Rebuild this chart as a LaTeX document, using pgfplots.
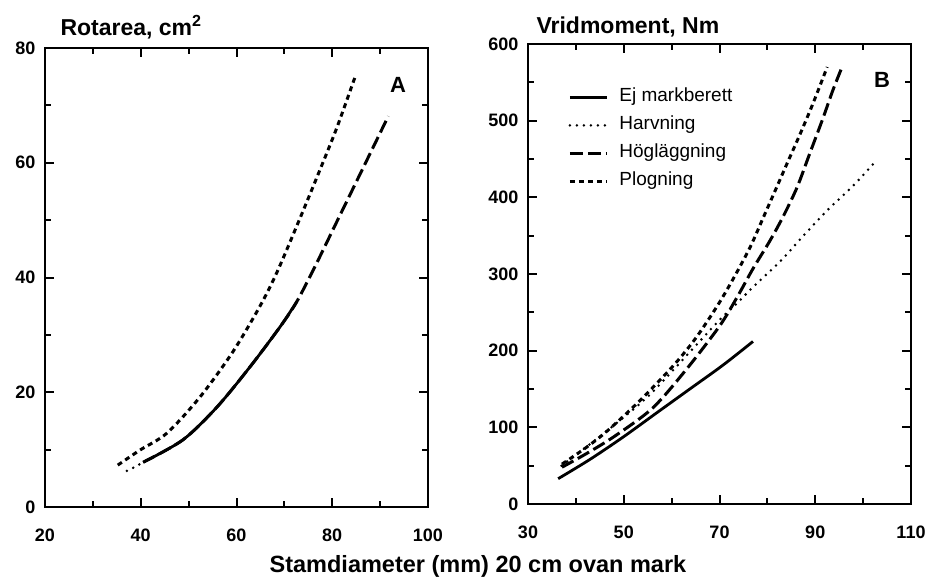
\documentclass[border=0pt]{standalone}
\usepackage{fontspec}
\setmainfont{Liberation Sans}
\usepackage{pgfplots}
\pgfplotsset{compat=1.18}
\begin{document}
\begin{tikzpicture}[x=1pt,y=1pt]
\useasboundingbox (0,0) rectangle (929,576);
\pgfplotsset{
  panel/.style={scale only axis, anchor=south west,
    tick align=inside, major tick length=9pt, minor tick length=6pt,
    axis line style={line width=2.6pt},
    every tick/.style={black, line width=2pt},
    /pgf/number format/assume math mode=true,
    ticklabel style={font=\fontsize{18}{18}\selectfont\bfseries},
    xticklabel style={yshift=-18pt},
    yticklabel style={xshift=-6pt},
    legend image code/.code={\draw[##1] (0pt,0pt) -- (37pt,0pt);},
  },
  ej/.style={black, line width=2.8pt, smooth},
  harv/.style={black, line width=2.8pt, line cap=round, dash pattern=on 0pt off 7pt, smooth},
  hog/.style={black, line width=3pt, dash pattern=on 13pt off 5pt, smooth},
  plog/.style={black, line width=3pt, dash pattern=on 5pt off 4pt, smooth},
}
% Panel A
\begin{axis}[panel, at={(45pt,69pt)}, width=383pt, height=459pt,
  xmin=20, xmax=100, ymin=0, ymax=80,
  xtick={20,40,60,80,100}, minor xtick={30,50,70,90},
  ytick={0,20,40,60,80}, minor ytick={10,30,50,70}]
\addplot[hog] coordinates {(40.5,7.8) (48.8,11.7) (55.9,17.4) (62.8,24.4) (69.1,31.4) (72.6,35.8) (76.8,42.6) (81.0,49.8) (85.8,58.0) (91.7,68.1)};
\addplot[harv] coordinates {(37.1,6.3) (38.8,7.0) (40.5,7.8) (48.8,11.7) (55.9,17.4) (62.8,24.4) (69.1,31.4) (72.6,35.8)};
\addplot[ej] coordinates {(40.5,7.8) (48.8,11.7) (55.9,17.4) (62.8,24.4) (69.1,31.4) (72.6,35.8)};
\addplot[plog] coordinates {(35.2,7.3) (39.8,9.9) (45.5,12.9) (52.4,19.2) (59.2,27.0) (64.9,35.0) (68.5,41.0) (73.2,50.2) (77.4,58.7) (81.0,66.2) (84.7,74.8)};
\end{axis}
% Panel B
\begin{axis}[panel, at={(528pt,72pt)}, width=383pt, height=460pt,
  xmin=30, xmax=110, ymin=0, ymax=600,
  xtick={30,50,70,90,110}, minor xtick={40,60,80,100},
  ytick={0,100,...,600}, minor ytick={50,150,...,550},
  legend style={at={(0.105,0.905)}, anchor=north west, draw=none, fill=none,
    font=\fontsize{19}{19}\selectfont, row sep=9pt, column sep=10pt, inner sep=0pt,
    nodes={inner sep=1pt, text height=13pt, text depth=4pt}},
  legend cell align=left]
\addplot[ej] coordinates {(36.3,33) (42.9,58) (49.8,87) (56.9,119) (63.8,150) (70.7,181) (77,212)};
\addlegendentry{Ej markberett}
\addplot[harv] coordinates {(37,50) (45,88) (55,140) (64.5,203) (70,240) (73.7,262) (77,283) (82.6,316) (87.4,349) (92.5,383) (97.9,415) (102.9,449)};
\addlegendentry{Harvning}
\addplot[hog] coordinates {(37.1,48) (42,65) (48,88) (56,125) (63,175) (70,232) (73.7,270) (77,307) (80.5,343) (83.3,375) (86.2,413) (88.9,458) (91.6,503) (93.7,540) (95.6,570)};
\addlegendentry{Högläggning}
\addplot[plog] coordinates {(37.1,52) (42,73) (46.5,95) (53.4,135) (60.3,180) (65,216) (69.5,258) (72.8,293) (76.4,335) (79.1,373) (82,414) (84.1,444) (86.8,482) (89.5,522) (92.5,570)};
\addlegendentry{Plogning}
\end{axis}
\node[anchor=base west, font=\fontsize{23}{23}\selectfont\bfseries] at (57,540) {Rotarea, cm\textsuperscript{2}};
\node[anchor=base west, font=\fontsize{23}{23}\selectfont\bfseries] at (533,542) {Vridmoment, Nm};
\node[anchor=base, font=\fontsize{23.5}{23.5}\selectfont\bfseries] at (478,4) {Stamdiameter (mm) 20 cm ovan mark};
\node[font=\fontsize{22}{22}\selectfont\bfseries] at (398,491) {A};
\node[font=\fontsize{22}{22}\selectfont\bfseries] at (882,496) {B};
\end{tikzpicture}
\end{document}
